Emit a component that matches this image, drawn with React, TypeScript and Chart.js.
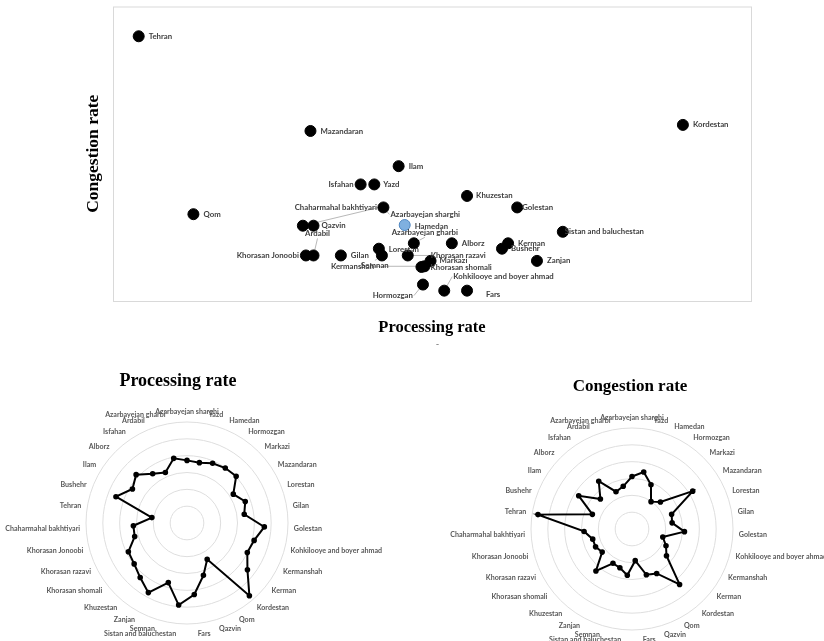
import React, { useEffect, useRef } from 'react';
import { Chart, registerables } from 'chart.js';

Chart.register(...registerables);

// ---------------- DATA ----------------
const provinces = [
  'Azarbayejan sharghi', 'Yazd', 'Hamedan', 'Hormozgan', 'Markazi', 'Mazandaran',
  'Lorestan', 'Gilan', 'Golestan', 'Kohkilooye and boyer ahmad', 'Kermanshah', 'Kerman',
  'Kordestan', 'Qom', 'Qazvin', 'Fars', 'Sistan and baluchestan', 'Semnan', 'Zanjan',
  'Khuzestan', 'Khorasan shomali', 'Khorasan razavi', 'Khorasan Jonoobi',
  'Chaharmahal bakhtiyari', 'Tehran', 'Bushehr', 'Ilam', 'Alborz', 'Isfahan', 'Ardabil',
  'Azarbayejan gharbi',
];

const processingRate = [
  3.72, 3.66, 3.86, 3.98, 4.03, 3.24, 3.69, 3.44, 4.60, 4.12, 3.99, 4.54, 5.69, 2.47, 3.26, 4.27,
  4.90, 3.71, 4.73, 4.27, 3.97, 3.88, 3.21, 3.19, 2.11, 4.50, 3.82, 4.17, 3.57, 3.26, 3.92,
];

const congestionRate = [
  3.12, 3.46, 2.86, 1.98, 2.33, 4.25, 2.51, 2.41, 3.12, 1.89, 2.25, 2.59, 4.34, 3.02, 2.85, 1.89,
  2.76, 2.41, 2.33, 3.29, 2.24, 2.41, 2.41, 2.85, 5.65, 2.51, 3.73, 2.59, 3.46, 2.41, 2.59,
];

const highlighted = ['Hamedan'];

// ---------------- STYLE / LAYOUT (not data) ----------------
type Place = { dx: number; dy: number; align: CanvasTextAlign; leader?: boolean };
const scatterLabelPlace: Record<string, Place> = {
  'Tehran': { dx: 10, dy: 0, align: 'left' },
  'Mazandaran': { dx: 10, dy: 0, align: 'left' },
  'Kordestan': { dx: 10, dy: 0, align: 'left' },
  'Ilam': { dx: 10, dy: 0, align: 'left' },
  'Isfahan': { dx: -7, dy: 0, align: 'right' },
  'Yazd': { dx: 9, dy: 0, align: 'left' },
  'Khuzestan': { dx: 9, dy: 0, align: 'left' },
  'Golestan': { dx: 5, dy: 0, align: 'left' },
  'Azarbayejan sharghi': { dx: 7, dy: 7, align: 'left', leader: true },
  'Chaharmahal bakhtiyari': { dx: 74, dy: -18, align: 'right', leader: true },
  'Qazvin': { dx: 8, dy: 0, align: 'left' },
  'Ardabil': { dx: 4, dy: -22, align: 'center', leader: true },
  'Hamedan': { dx: 10, dy: 1, align: 'left' },
  'Azarbayejan gharbi': { dx: 11, dy: -11, align: 'center', leader: true },
  'Sistan and baluchestan': { dx: 2, dy: 0, align: 'left' },
  'Alborz': { dx: 10, dy: 0, align: 'left' },
  'Kerman': { dx: 10, dy: 0, align: 'left' },
  'Bushehr': { dx: 9, dy: 0, align: 'left' },
  'Lorestan': { dx: 10, dy: 1, align: 'left' },
  'Gilan': { dx: 10, dy: 0, align: 'left' },
  'Khorasan Jonoobi': { dx: -7, dy: 0, align: 'right' },
  'Semnan': { dx: -7, dy: 10, align: 'center', leader: true },
  'Kermanshah': { dx: -72, dy: 0, align: 'center', leader: true },
  'Khorasan razavi': { dx: 23, dy: 0, align: 'left', leader: true },
  'Markazi': { dx: 9, dy: 0, align: 'left' },
  'Khorasan shomali': { dx: 9, dy: 1, align: 'left' },
  'Zanjan': { dx: 10, dy: 0, align: 'left' },
  'Hormozgan': { dx: -10, dy: 11, align: 'right', leader: true },
  'Kohkilooye and boyer ahmad': { dx: 9, dy: -14, align: 'left', leader: true },
  'Fars': { dx: 19, dy: 4, align: 'left' },
  'Qom': { dx: 10, dy: 0, align: 'left' },
};

const SERIF = '"Liberation Serif", "Times New Roman", serif';
const SCATTER_LABEL_FONT = 'bold 7.8px Lato, "Open Sans", sans-serif';
const RADAR_LABEL_FONT = 'bold 7.1px Lato, "Open Sans", sans-serif';

// ---------------- PLUGINS ----------------
const scatterDecor = {
  id: 'scatterDecor',
  beforeDatasetsDraw(chart: any) {
    const { ctx, chartArea } = chart;
    ctx.save();
    ctx.strokeStyle = '#d9d9d9';
    ctx.lineWidth = 1;
    ctx.strokeRect(chartArea.left + 0.5, chartArea.top + 0.5, chartArea.right - chartArea.left, chartArea.bottom - chartArea.top);
    const meta = chart.getDatasetMeta(0);
    ctx.strokeStyle = '#a6a6a6';
    ctx.lineWidth = 0.8;
    ctx.font = SCATTER_LABEL_FONT;
    meta.data.forEach((pt: any, i: number) => {
      const name = provinces[i];
      const p = scatterLabelPlace[name];
      if (!p || !p.leader) return;
      const lx = pt.x + p.dx;
      const ly = pt.y + p.dy;
      const w = ctx.measureText(name).width;
      let ax = lx, ay = ly;
      if (p.align === 'left') ax = lx - 1;
      else if (p.align === 'right') ax = lx + 1;
      else {
        if (Math.abs(p.dy) < 3) {
          ax = p.dx < 0 ? lx + w / 2 + 1 : lx - w / 2 - 1;
        } else {
          ay = p.dy < 0 ? ly + 5 : ly - 5;
        }
      }
      ctx.beginPath();
      ctx.moveTo(pt.x, pt.y);
      ctx.lineTo(ax, ay);
      ctx.stroke();
    });
    ctx.restore();
  },
  afterDatasetsDraw(chart: any) {
    const { ctx } = chart;
    const meta = chart.getDatasetMeta(0);
    ctx.save();
    ctx.font = SCATTER_LABEL_FONT;
    ctx.fillStyle = '#404040';
    ctx.textBaseline = 'middle';
    meta.data.forEach((pt: any, i: number) => {
      const name = provinces[i];
      const p = scatterLabelPlace[name] || { dx: 9, dy: 0, align: 'left' };
      ctx.textAlign = p.align;
      ctx.fillText(name, pt.x + p.dx, pt.y + p.dy);
    });
    ctx.restore();
  },
};

const radarDecor = {
  id: 'radarDecor',
  afterDraw(chart: any, _args: any, opts: any) {
    const { ctx } = chart;
    const scale = chart.scales.r;
    const labels: string[] = chart.data.labels;
    const n = labels.length;
    ctx.save();
    ctx.font = RADAR_LABEL_FONT;
    ctx.fillStyle = '#595959';
    ctx.textBaseline = 'middle';
    const d = scale.drawingArea + 6;
    labels.forEach((lab, i) => {
      const th = (i * 2 * Math.PI) / n;
      const s = Math.sin(th);
      const c = Math.cos(th);
      const x = scale.xCenter + s * d;
      const y = scale.yCenter - c * d - c * 4;
      ctx.textAlign = Math.abs(s) < 0.06 ? 'center' : s > 0 ? 'left' : 'right';
      ctx.fillText(lab, x, y);
    });
    ctx.font = `bold ${opts.titleSize}px ${SERIF}`;
    ctx.fillStyle = '#000';
    ctx.textAlign = 'center';
    ctx.fillText(opts.title, opts.titleX, opts.titleY);
    ctx.restore();
  },
};

function radarConfig(values: number[], title: string, titleSize: number, titleX: number, titleY: number, padding: any): any {
  return {
    type: 'radar',
    data: {
      labels: provinces,
      datasets: [{
        data: values,
        borderColor: '#000',
        borderWidth: 2,
        pointRadius: 1.8,
        pointBackgroundColor: '#000',
        pointBorderColor: '#000',
        fill: false,
        tension: 0,
      }],
    },
    options: {
      animation: false,
      responsive: false,
      maintainAspectRatio: false,
      layout: { padding },
      plugins: {
        legend: { display: false },
        tooltip: { enabled: false },
        title: { display: false },
        radarDecor: { title, titleSize, titleX, titleY },
      },
      scales: {
        r: {
          min: 0,
          max: 6,
          ticks: { display: false, stepSize: 1 },
          grid: { color: '#dedede', lineWidth: 1, circular: true },
          angleLines: { display: false },
          pointLabels: { display: false },
        },
      },
    },
    plugins: [radarDecor],
  };
}

function scatterConfig(): any {
  return {
    type: 'scatter',
    data: {
      datasets: [{
        data: provinces.map((_, i) => ({ x: processingRate[i], y: congestionRate[i] })),
        pointRadius: 5.5,
        pointBackgroundColor: provinces.map((p) => (highlighted.includes(p) ? '#7fb0e0' : '#000')),
        pointBorderColor: provinces.map((p) => (highlighted.includes(p) ? '#4f86c0' : '#000')),
        pointBorderWidth: 1,
      }],
    },
    options: {
      animation: false,
      responsive: false,
      maintainAspectRatio: false,
      layout: { padding: { left: 79, right: 73, top: 5, bottom: 3 } },
      plugins: { legend: { display: false }, tooltip: { enabled: false } },
      scales: {
        x: {
          type: 'linear',
          min: 1.941,
          max: 6.138,
          grid: { display: false },
          border: { display: false },
          ticks: { display: false },
          title: {
            display: true,
            text: 'Processing rate',
            color: '#000',
            font: { family: SERIF, size: 16.5, weight: 'bold' },
            padding: { top: 4, bottom: 4 },
          },
          afterFit: (s: any) => { s.height = 41; },
        },
        y: {
          type: 'linear',
          min: 1.737,
          max: 6.09,
          grid: { display: false },
          border: { display: false },
          ticks: { display: false },
          title: {
            display: true,
            text: 'Congestion rate',
            color: '#000',
            font: { family: SERIF, size: 17.5, weight: 'bold' },
            padding: { top: 4, bottom: 4 },
          },
          afterFit: (s: any) => { s.width = 34; },
        },
      },
    },
    plugins: [scatterDecor],
  };
}

export default function App() {
  const scatterRef = useRef<HTMLCanvasElement>(null);
  const procRef = useRef<HTMLCanvasElement>(null);
  const congRef = useRef<HTMLCanvasElement>(null);

  useEffect(() => {
    const charts: Chart[] = [];
    if (scatterRef.current) charts.push(new Chart(scatterRef.current, scatterConfig()));
    if (procRef.current)
      charts.push(new Chart(procRef.current, radarConfig(processingRate, 'Processing rate', 18, 178, 16,
        { left: 86, top: 57, right: 124, bottom: 17 })));
    if (congRef.current)
      charts.push(new Chart(congRef.current, radarConfig(congestionRate, 'Congestion rate', 17, 218, 22,
        { left: 119, top: 63, right: 91, bottom: 11 })));
    return () => charts.forEach((c) => c.destroy());
  }, []);

  return (
    <div style={{ position: 'absolute', left: 0, top: 0, width: 824, height: 641, background: '#fff' }}>
      <canvas ref={scatterRef} width={824} height={345} style={{ position: 'absolute', left: 0, top: 0, width: 824, height: 345 }} />
      <canvas ref={procRef} width={412} height={276} style={{ position: 'absolute', left: 0, top: 365, width: 412, height: 276 }} />
      <canvas ref={congRef} width={412} height={276} style={{ position: 'absolute', left: 412, top: 365, width: 412, height: 276 }} />
      <div style={{ position: 'absolute', left: 436, top: 340, fontSize: 9, lineHeight: '9px', color: '#555' }}>-</div>
    </div>
  );
}
